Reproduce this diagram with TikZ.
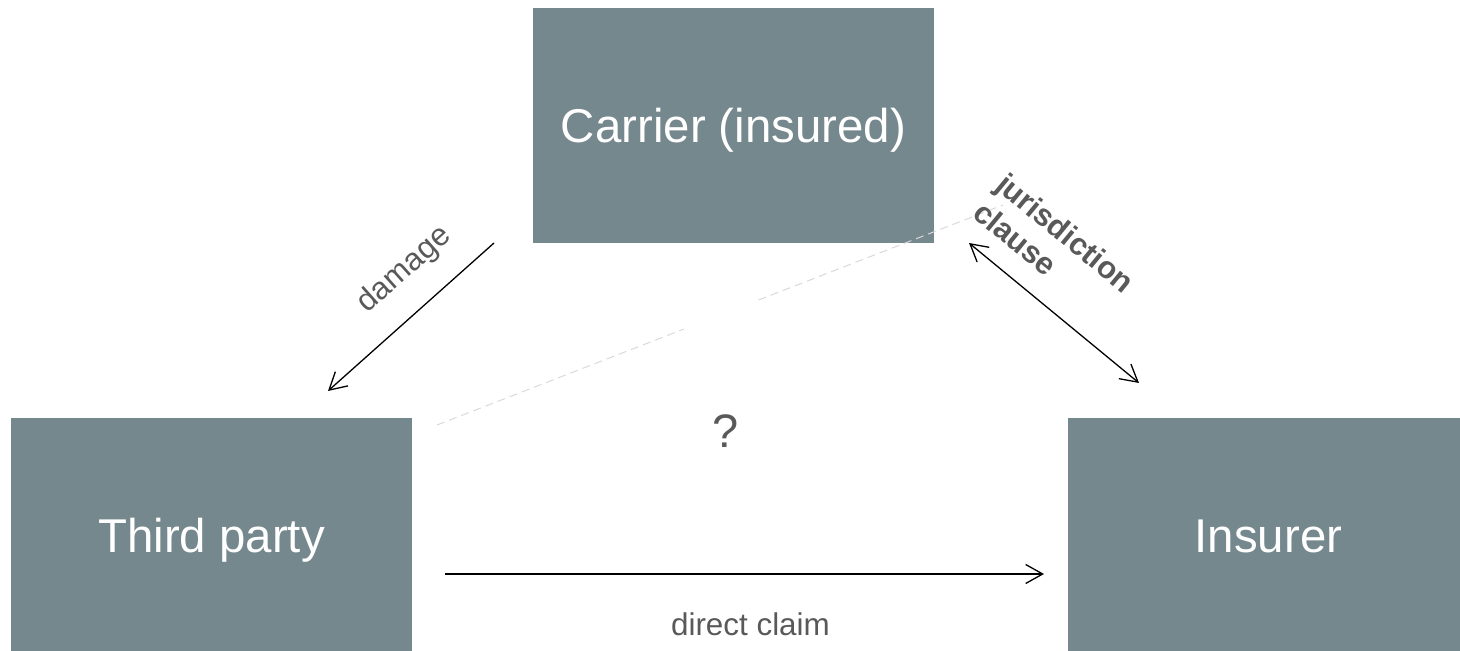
\documentclass[tikz,border=0pt]{standalone}
\usepackage{fontspec}
\setmainfont{Liberation Sans}
\usetikzlibrary{calc, arrows.meta}

\definecolor{boxgray}{RGB}{117,136,141}
\definecolor{labelgray}{RGB}{89,89,89}
\definecolor{dashgray}{RGB}{217,217,217}

\begin{document}
\begin{tikzpicture}[x=0.5pt, y=0.5pt,
    party/.style={fill=boxgray, text=white, inner sep=0pt,
        minimum width=200.5pt, minimum height=117.5pt,
        font=\fontsize{23.7}{28}\selectfont, text height=17pt, text depth=0pt},
    lbl/.style={text=labelgray, inner sep=0pt, font=\fontsize{15.7}{18}\selectfont},
    barb/.tip={Straight Barb[length=8.5pt, width=9.5pt]},
    arr/.style={line width=0.65pt, -barb},
    gapline/.style={dashgray, line width=0.5pt, dash pattern=on 4pt off 2.5pt}]
    % --- Frame ---
    \useasboundingbox (0,0) rectangle (1460,651);

    % --- Parties ---
    \node[party] (carrier) at (733.5,525.5) {Carrier (insured)};
    \node[party] (third) at (211.5,115.5) {Third party};
    \node[party] (insurer) at (1268.5,115.5) {Insurer};

    % --- Free ends of the connectors ---
    \coordinate (dmgA) at (494,408);
    \coordinate (dmgB) at (328,260);
    \coordinate (jurA) at (969,408);
    \coordinate (jurB) at (1139,268);
    \coordinate (clmA) at (445,77);
    \coordinate (clmB) at (1044,77);
    \coordinate (dshA) at (437,226);
    \coordinate (dshB) at (1003,446);

    % --- Drawing ---
    % 1. Light dashed line, broken in the middle
    \draw[gapline] (dshA) -- ($(dshA)!0.436!(dshB)$);
    \draw[gapline] ($(dshA)!0.568!(dshB)$) -- (dshB);

    % 2. Damage caused to the third party
    \draw[arr] (dmgA) -- node[lbl, sloped, above=12pt, pos=0.38] (dmglbl) {damage} (dmgB);

    % 3. Jurisdiction clause between carrier and insurer
    \draw[arr, barb-barb] (jurA) -- node[lbl, sloped, above=10.5pt, pos=0.31, align=left,
        font=\fontsize{15.5}{18.2}\selectfont\bfseries] (jurlbl) {jurisdiction\\clause} (jurB);

    % 4. Direct claim against the insurer
    \draw[arr] (clmA) -- node[lbl, below=19pt, pos=0.51] (clmlbl) {direct claim} (clmB);

    % --- Question mark ---
    \node[lbl, anchor=base, font=\fontsize{23.5}{28}\selectfont] (qmark) at (726,203) {?};
\end{tikzpicture}
\end{document}
